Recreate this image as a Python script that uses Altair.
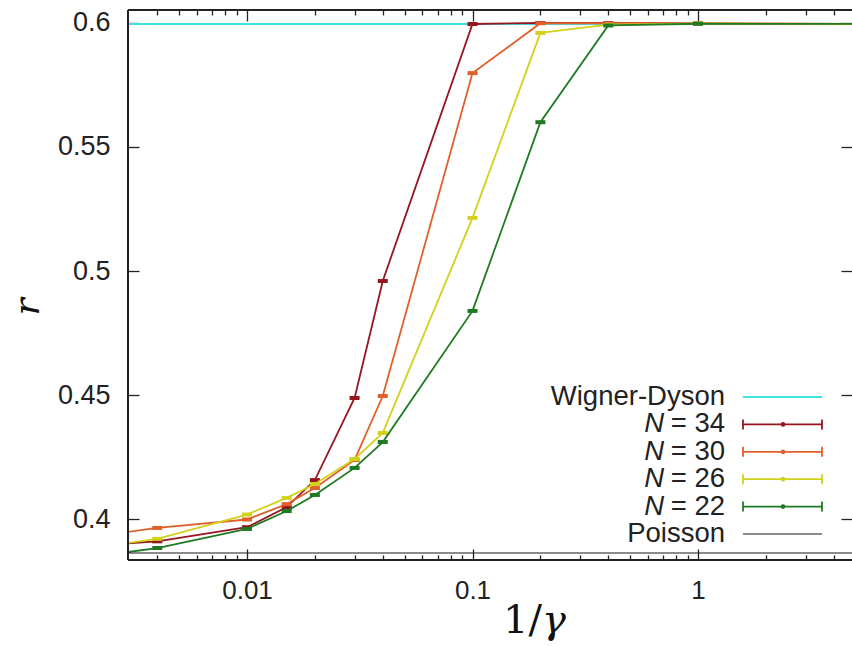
import altair as alt
import pandas as pd

# ---------------- data ----------------
x_vals = [0.002, 0.004, 0.01, 0.015, 0.02, 0.03, 0.04, 0.1, 0.2, 0.4, 1, 10]
r_N34 = [0.3892, 0.3910, 0.3967, 0.4048, 0.4157, 0.4488, 0.4960, 0.5996, 0.6000, 0.6000, 0.5998, 0.5995]
r_N30 = [0.3927, 0.3964, 0.3998, 0.4060, 0.4125, 0.4238, 0.4496, 0.5798, 0.5999, 0.5999, 0.5998, 0.5995]
r_N26 = [0.3883, 0.3920, 0.4018, 0.4085, 0.4141, 0.4242, 0.4347, 0.5214, 0.5960, 0.5993, 0.5998, 0.5995]
r_N22 = [0.3846, 0.3883, 0.3960, 0.4032, 0.4097, 0.4206, 0.4310, 0.4839, 0.5600, 0.5990, 0.5997, 0.5996]

series_names = ["34", "30", "26", "22"]
series_values = [r_N34, r_N30, r_N26, r_N22]
series_colors = ["#961620", "#e0602c", "#d2d21c", "#1f7a24"]

wigner_dyson = 0.5996
poisson = 0.3863

x_major_ticks = [0.01, 0.1, 1]
x_minor_ticks = [0.004, 0.005, 0.006, 0.007, 0.008, 0.009,
                 0.02, 0.03, 0.04, 0.05, 0.06, 0.07, 0.08, 0.09,
                 0.2, 0.3, 0.4, 0.5, 0.6, 0.7, 0.8, 0.9, 2, 3, 4]
y_ticks = [0.4, 0.45, 0.5, 0.55, 0.6]

# ---------------- layout ----------------
W, H = 724, 550
XDOM = [0.002967, 4.818]
YDOM = [0.38347, 0.60524]
FONT = "Liberation Sans"
INK = "#222222"
WD_COLOR = "#3ee4e4"

xscale = alt.Scale(type="log", domain=XDOM, nice=False)
yscale = alt.Scale(domain=YDOM, nice=False, zero=False)

common = dict(domain=False, grid=False, title=None, tickColor=INK, tickWidth=1.3)
ax_x_main = alt.Axis(orient="bottom", values=x_major_ticks, format="~g", offset=-11, tickSize=11,
                     labelFont=FONT, labelFontSize=26, labelColor=INK, labelPadding=17,
                     labelFlush=False, **common)
ax_x_minor_b = alt.Axis(orient="bottom", values=x_minor_ticks, offset=-5, tickSize=5, labels=False, **common)
ax_x_major_t = alt.Axis(orient="top", values=x_major_ticks, offset=-11, tickSize=11, labels=False, **common)
ax_x_minor_t = alt.Axis(orient="top", values=x_minor_ticks, offset=-5, tickSize=5, labels=False, **common)
ax_y_main = alt.Axis(orient="left", values=y_ticks, format="~g", offset=-11, tickSize=11,
                     labelFont=FONT, labelFontSize=27, labelColor=INK, labelPadding=18,
                     labelFlush=False, **common)
ax_y_right = alt.Axis(orient="right", values=y_ticks, offset=-11, tickSize=11, labels=False, **common)

x_axes = [ax_x_main, ax_x_minor_b, ax_x_major_t, ax_x_minor_t]
y_axes = [ax_y_main, ax_y_right, None, None]

layers = []

# Wigner-Dyson reference line
wd_df = pd.DataFrame({"r": [wigner_dyson]})
layers.append(alt.Chart(wd_df).mark_rule(color=WD_COLOR, strokeWidth=2.2).encode(
    y=alt.Y("r:Q", scale=yscale, axis=None)))

# data series
for i, (name, vals, col) in enumerate(zip(series_names, series_values, series_colors)):
    df = pd.DataFrame({"x": x_vals, "r": vals})
    line = alt.Chart(df).mark_line(color=col, strokeWidth=1.8, clip=True).encode(
        x=alt.X("x:Q", scale=xscale, axis=x_axes[i]),
        y=alt.Y("r:Q", scale=yscale, axis=y_axes[i]),
    )
    ticks = alt.Chart(df).mark_tick(color=col, orient="horizontal", size=10, thickness=4,
                                    clip=True, opacity=1).encode(
        x=alt.X("x:Q", scale=xscale, axis=None),
        y=alt.Y("r:Q", scale=yscale, axis=None),
    )
    layers += [line, ticks]

# Poisson reference line
po_df = pd.DataFrame({"r": [poisson]})
layers.append(alt.Chart(po_df).mark_rule(color="#1a1a1a", strokeWidth=1.2).encode(
    y=alt.Y("r:Q", scale=yscale, axis=None)))

# frame (left, top, bottom)
frame_df = pd.DataFrame({"k": [0]})
layers.append(alt.Chart(frame_df).mark_rule(color=INK, strokeWidth=2).encode(
    x=alt.value(0), y=alt.value(0), y2=alt.value(H)))
layers.append(alt.Chart(frame_df).mark_rule(color=INK, strokeWidth=2).encode(
    x=alt.value(0), x2=alt.value(W), y=alt.value(0)))
layers.append(alt.Chart(frame_df).mark_rule(color=INK, strokeWidth=2).encode(
    x=alt.value(0), x2=alt.value(W), y=alt.value(H)))

# ---------------- legend ----------------
LEG_TEXT_X = 597
LEG_L, LEG_R, LEG_DOT = 615, 694, 655
LEG_Y0, LEG_DY = 387, 27.4
leg_labels = ["Wigner-Dyson"] + ["= " + n for n in series_names] + ["Poisson"]
leg_colors = [WD_COLOR] + series_colors + ["#1a1a1a"]
leg_widths = [2.2, 1.8, 1.8, 1.8, 1.8, 1.2]
leg_df = pd.DataFrame({
    "label": leg_labels,
    "color": leg_colors,
    "sw": leg_widths,
    "py": [LEG_Y0 + i * LEG_DY for i in range(len(leg_labels))],
    "is_n": [False, True, True, True, True, False],
})
leg_df["py_top"] = leg_df["py"] - 5
leg_df["py_bot"] = leg_df["py"] + 5

layers.append(alt.Chart(leg_df).mark_text(align="right", baseline="middle", font=FONT,
                                          fontSize=27.5, color=INK).encode(
    x=alt.value(LEG_TEXT_X), y=alt.Y("py:Q", scale=None), text="label:N"))
n_df = leg_df[leg_df["is_n"]]
layers.append(alt.Chart(n_df).mark_text(align="right", baseline="middle", font=FONT,
                                        fontSize=27.5, fontStyle="italic", color=INK).encode(
    x=alt.value(LEG_TEXT_X - 61), y=alt.Y("py:Q", scale=None), text=alt.value("N")))
layers.append(alt.Chart(leg_df).mark_rule().encode(
    x=alt.value(LEG_L), x2=alt.value(LEG_R), y=alt.Y("py:Q", scale=None),
    color=alt.Color("color:N", scale=None), strokeWidth=alt.StrokeWidth("sw:Q", scale=None)))
for cx in (LEG_L, LEG_R):
    layers.append(alt.Chart(n_df).mark_rule(strokeWidth=1.8).encode(
        x=alt.value(cx), y=alt.Y("py_top:Q", scale=None), y2=alt.Y2("py_bot:Q"),
        color=alt.Color("color:N", scale=None)))
layers.append(alt.Chart(n_df).mark_point(filled=True, size=22, opacity=1).encode(
    x=alt.value(LEG_DOT), y=alt.Y("py:Q", scale=None), color=alt.Color("color:N", scale=None)))

# ---------------- axis titles ----------------
t_df = pd.DataFrame({"k": [0]})
layers.append(alt.Chart(t_df).mark_text(align="right", baseline="alphabetic", font="DejaVu Serif",
                                        fontSize=40, color="#111111").encode(
    x=alt.value(414), y=alt.value(623), text=alt.value("1/")))
layers.append(alt.Chart(t_df).mark_text(align="left", baseline="alphabetic", font="DejaVu Serif",
                                        fontSize=40, fontStyle="italic", color="#111111").encode(
    x=alt.value(414), y=alt.value(623), text=alt.value("γ")))
layers.append(alt.Chart(t_df).mark_text(align="center", baseline="middle", font="DejaVu Serif",
                                        fontSize=36, fontStyle="italic", angle=270,
                                        color="#111111").encode(
    x=alt.value(-100), y=alt.value(297), text=alt.value("r")))

chart = alt.layer(*layers).properties(
    width=W, height=H,
    autosize=alt.AutoSizeParams(type="none"),
    padding={"left": 128, "top": 10, "right": 0, "bottom": 86},
).resolve_axis(x="independent", y="independent").configure_view(strokeWidth=0)

chart.save("out.html", embed_options={"renderer": "svg", "actions": False})
